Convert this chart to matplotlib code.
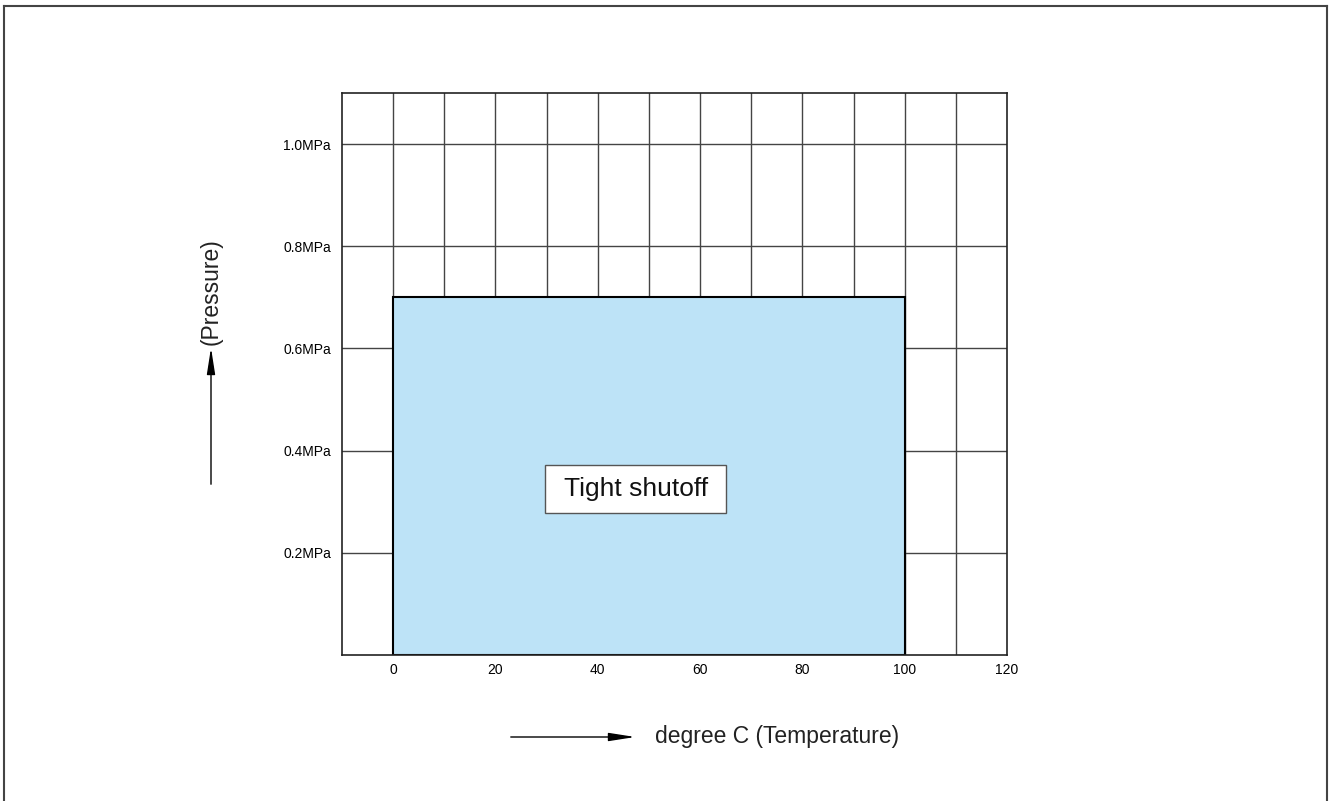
import matplotlib
matplotlib.use("Agg")
import matplotlib.pyplot as plt
from matplotlib.patches import Rectangle, FancyArrowPatch
from matplotlib.lines import Line2D

plt.rcParams['font.family'] = ['Liberation Sans', 'DejaVu Sans']

# Data
temp_ticks = [0, 20, 40, 60, 80, 100, 120]
temp_grid = [0, 10, 20, 30, 40, 50, 60, 70, 80, 90, 100, 110]
pressure_ticks = [0.2, 0.4, 0.6, 0.8, 1.0]
pressure_labels = ["0.2MPa", "0.4MPa", "0.6MPa", "0.8MPa", "1.0MPa"]
region_temp = [0, 100]
region_pressure_max = 0.7
region_label = "Tight shutoff"

fig = plt.figure(figsize=(13.35, 8.01), dpi=100)
ax = fig.add_axes([342/1335, 146/801, 665/1335, 562/801])
ax.set_xlim(-10, 120)
ax.set_ylim(0, 1.1)

grid_c = '#444444'
for x in temp_grid:
    ax.axvline(x, color=grid_c, lw=1.0, zorder=1)
for y in pressure_ticks:
    ax.axhline(y, color=grid_c, lw=1.0, zorder=1)

ax.add_patch(Rectangle((region_temp[0], 0), region_temp[1] - region_temp[0], region_pressure_max,
                       facecolor='#bde3f7', edgecolor='black', lw=1.5, zorder=2))
# label box
ax.add_patch(Rectangle((29.7, 0.278), 35.4, 0.094, facecolor='white', edgecolor='#555555',
                       lw=1.0, zorder=3))
ax.text(47.4, 0.325, region_label, fontsize=19, ha='center', va='center', zorder=4,
        color='#111111')

ax.set_xticks(temp_ticks)
ax.set_xticklabels([str(t) for t in temp_ticks], fontsize=10)
ax.set_yticks(pressure_ticks)
ax.set_yticklabels(pressure_labels, fontsize=10)
ax.tick_params(axis='x', length=0, pad=6)
ax.tick_params(axis='y', length=0, pad=8)
for s in ax.spines.values():
    s.set_linewidth(1.2)
    s.set_color('#222222')

# Axis labels with arrows
fig.text(211/1335, 1 - 292/801, "(Pressure)", rotation=90, fontsize=16.5, ha='center',
         va='center', color='#222222')
fig.add_artist(FancyArrowPatch((211/1335, 1 - 487/801), (211/1335, 1 - 345/801),
               transform=fig.transFigure, arrowstyle='-|>,head_length=1.6,head_width=0.25',
               color='black', lw=1.0, mutation_scale=10))
fig.text(655/1335, 1 - 737/801, "degree C (Temperature)", fontsize=16.5, ha='left',
         va='center', color='#222222')
fig.add_artist(FancyArrowPatch((508/1335, 1 - 737/801), (638/1335, 1 - 737/801),
               transform=fig.transFigure, arrowstyle='-|>,head_length=1.6,head_width=0.25',
               color='black', lw=1.0, mutation_scale=10))

# Outer frame (left, top, right)
fc = '#444444'
fig.add_artist(Line2D([4/1335, 4/1335], [0, 1 - 6/801], transform=fig.transFigure, color=fc, lw=1.5))
fig.add_artist(Line2D([4/1335, 1327/1335], [1 - 6/801, 1 - 6/801], transform=fig.transFigure, color=fc, lw=1.5))
fig.add_artist(Line2D([1327/1335, 1327/1335], [0, 1 - 6/801], transform=fig.transFigure, color=fc, lw=1.5))

fig.savefig("out.png", dpi=100)
